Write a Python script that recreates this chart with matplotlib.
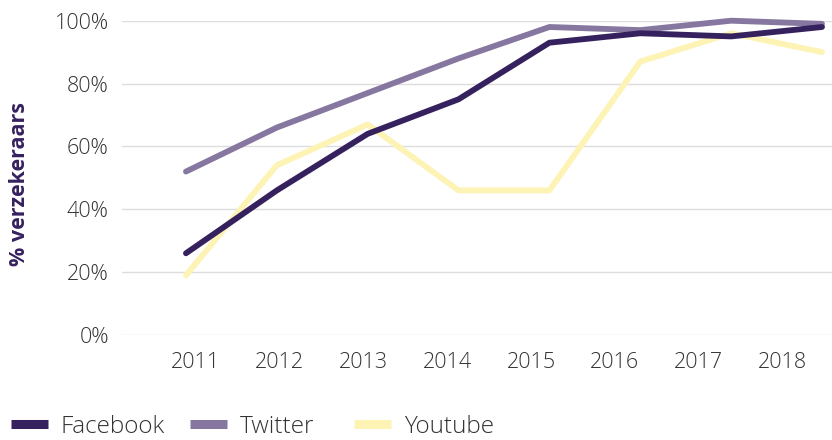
import matplotlib
matplotlib.use("Agg")
import matplotlib.pyplot as plt
import numpy as np
from matplotlib.lines import Line2D

years = ["2011", "2012", "2013", "2014", "2015", "2016", "2017", "2018"]
facebook = [26, 46, 64, 75, 93, 96, 95, 98]
twitter = [52, 66, 77, 88, 98, 97, 100, 99]
youtube = [19, 54, 67, 46, 46, 87, 96, 90]
series_names = ["Facebook", "Twitter", "Youtube"]
colors = ["#36215f", "#8677a0", "#fdf3b5"]
y_ticks = [0, 20, 40, 60, 80, 100]

plt.rcParams['font.family'] = ['Open Sans', 'DejaVu Sans']

W, H = 832, 440
fig = plt.figure(figsize=(W / 100, H / 100), dpi=100)
left_px, right_px, bottom_px, top_px = 122, 832, 335, 20.7
ax = fig.add_axes([left_px / W, 1 - bottom_px / H, (right_px - left_px) / W, (bottom_px - top_px) / H])

x = np.arange(len(years))
lw = 4.2
values = [facebook, twitter, youtube]
zorders = [5, 4, 3]
for vals, c, z, name in zip(values, colors, zorders, series_names):
    ax.plot(x, vals, color=c, lw=lw, solid_capstyle='round', zorder=z, clip_on=False, label=name)

ax.set_ylim(0, 100)
ax.set_xlim(-0.704, 7.11)
ax.set_yticks(y_ticks)
ax.set_yticklabels([f"{v}%" for v in y_ticks])
ax.set_xticks(np.linspace(0.11, 6.565, len(years)))
ax.set_xticklabels(years)
ax.grid(axis='y', color='#dddddd', lw=1.0)
ax.set_axisbelow(True)
for s in ax.spines.values():
    s.set_visible(False)
ax.tick_params(axis='both', length=0, labelsize=15.5, labelcolor='#333333')
ax.tick_params(axis='y', pad=9.5)
ax.tick_params(axis='x', pad=12.5)
for lbl in ax.get_xticklabels() + ax.get_yticklabels():
    lbl.set_fontweight('light')

fig.text(20 / W, 1 - 184 / H, "% verzekeraars", rotation=90, ha='center', va='center',
         fontsize=15.5, fontweight='bold', color='#36215f')

# legend entries
leg_x = [11, 190, 354]
for name, c, lx in zip(series_names, colors, leg_x):
    h = Line2D([0], [0], color=c, lw=6.5, solid_capstyle='butt')
    leg = fig.legend([h], [name], loc='center left', bbox_to_anchor=(lx / W, 1 - 427 / H),
                     frameon=False, fontsize=17.5, handlelength=1.52, handletextpad=0.53,
                     borderpad=0, borderaxespad=0)
    for t in leg.get_texts():
        t.set_color('#333333')
        t.set_fontweight('light')

fig.savefig("out.png", dpi=100)
